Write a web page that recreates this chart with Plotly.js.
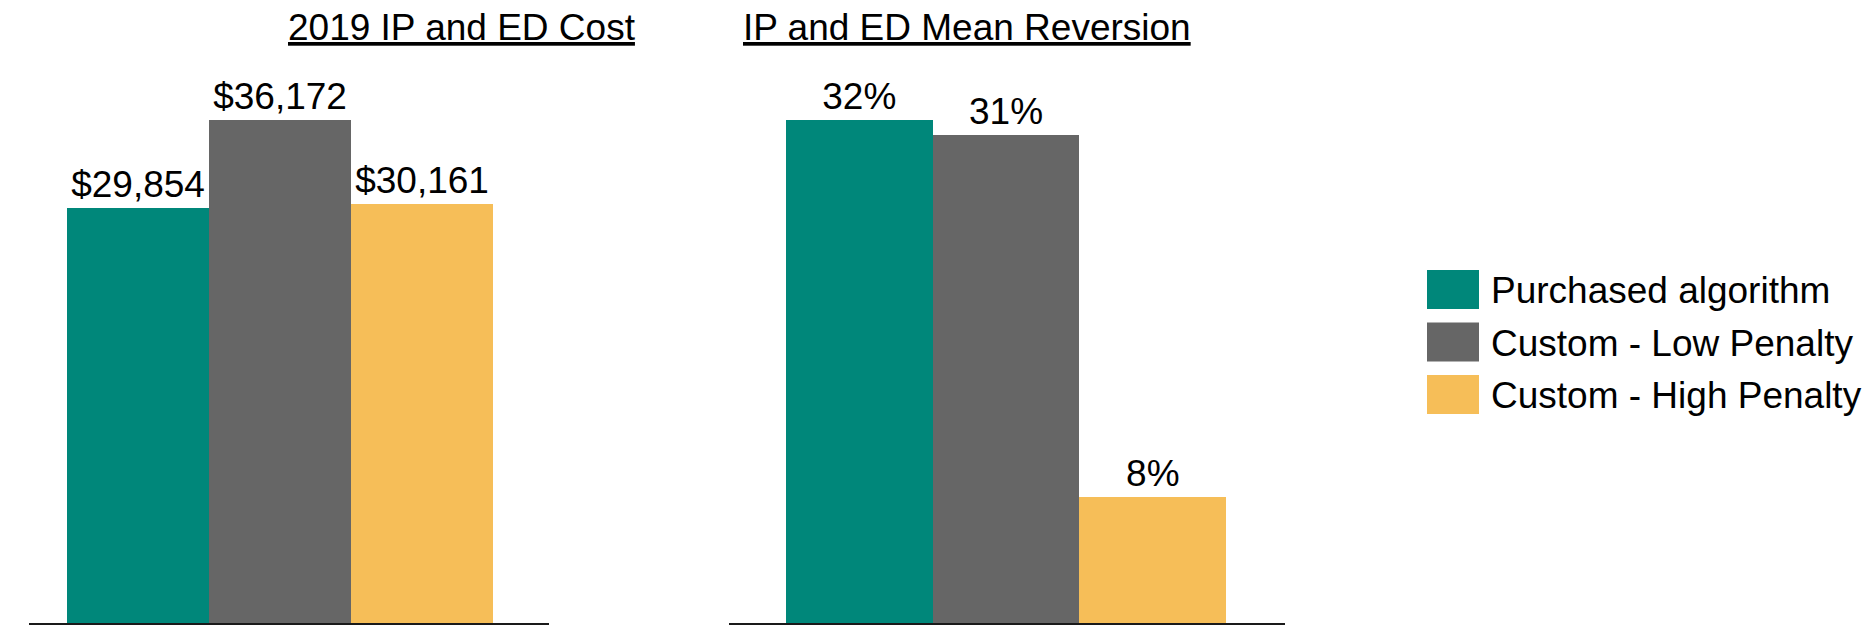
<!DOCTYPE html>
<html>
<head>
<meta charset="utf-8">
<script src="https://cdn.plot.ly/plotly-3.0.1.min.js"></script>
<style>
  html, body { margin: 0; padding: 0; background: #ffffff; }
  #chart { width: 1871px; height: 627px; }
</style>
</head>
<body>
<div id="chart"></div>
<script>
// Series shown side by side in both panels
const seriesNames = ['Purchased algorithm', 'Custom - Low Penalty', 'Custom - High Penalty'];
const seriesColors = ['#00877A', '#666666', '#F6BE58'];

// Panel 1: 2019 IP and ED cost (dollars)
const costValues = [29854, 36172, 30161];
// Panel 2: IP and ED mean reversion (percent)
const reversionValues = [32, 31, 8];

const panelTitles = ['2019 IP and ED Cost', 'IP and ED Mean Reversion'];

const W = 1871, H = 627;
const FONT = 'Liberation Sans, Arial, sans-serif';
const px = v => v / W;
const py = v => 1 - v / H;

const traces = [
  {
    type: 'bar',
    x: seriesNames,
    y: costValues,
    xaxis: 'x', yaxis: 'y',
    marker: { color: seriesColors, line: { width: 0 } },
    texttemplate: '$%{y:,}',
    textposition: 'outside',
    constraintext: 'none',
    cliponaxis: false,
    textfont: { family: FONT, size: 37, color: '#000000' },
    hoverinfo: 'skip',
    showlegend: false
  },
  {
    type: 'bar',
    x: seriesNames,
    y: reversionValues,
    xaxis: 'x2', yaxis: 'y2',
    marker: { color: seriesColors, line: { width: 0 } },
    texttemplate: '%{y}%',
    textposition: 'outside',
    constraintext: 'none',
    cliponaxis: false,
    textfont: { family: FONT, size: 37, color: '#000000' },
    hoverinfo: 'skip',
    showlegend: false
  }
];

const baseAxis = {
  type: 'category',
  showticklabels: false,
  ticks: '',
  showgrid: false,
  zeroline: false,
  showline: true,
  linecolor: '#1a1a1a',
  linewidth: 2,
  fixedrange: true
};

const plotTop = 60, plotBottom = 623;
const yDomain = [1 - plotBottom / H, 1 - plotTop / H];

const layout = {
  width: W,
  height: H,
  margin: { l: 0, r: 0, t: 0, b: 0 },
  paper_bgcolor: '#ffffff',
  plot_bgcolor: '#ffffff',
  font: { family: FONT, color: '#000000' },
  bargap: 0,
  showlegend: false,
  xaxis: Object.assign({}, baseAxis, { domain: [px(29), px(549)], range: [-0.768, 2.894], anchor: 'y' }),
  yaxis: { domain: yDomain, range: [0, 40486], visible: false, fixedrange: true, anchor: 'x' },
  xaxis2: Object.assign({}, baseAxis, { domain: [px(729), px(1285)], range: [-0.888, 2.901], anchor: 'y2' }),
  yaxis2: { domain: yDomain, range: [0, 35.8], visible: false, fixedrange: true, anchor: 'x2' },
  shapes: [],
  annotations: []
};

// Underlined panel titles
const titleCenters = [462, 967];
panelTitles.forEach((t, i) => {
  layout.annotations.push({
    xref: 'paper', yref: 'paper',
    x: px(titleCenters[i]), y: py(27),
    xanchor: 'center', yanchor: 'middle',
    text: '<u>' + t + '</u>',
    showarrow: false,
    font: { family: FONT, size: 37, color: '#000000' }
  });
});

// Legend: large colour swatches with labels
const swatchTops = [270, 322.5, 375];
const swatchH = 39;
seriesNames.forEach((name, i) => {
  const top = swatchTops[i];
  layout.shapes.push({
    type: 'rect', xref: 'paper', yref: 'paper',
    x0: px(1427), x1: px(1479),
    y0: py(top + swatchH), y1: py(top),
    fillcolor: seriesColors[i],
    line: { width: 0 }
  });
  layout.annotations.push({
    xref: 'paper', yref: 'paper',
    x: px(1489), y: py(top + swatchH / 2 + 1),
    xanchor: 'left', yanchor: 'middle',
    text: name,
    showarrow: false,
    font: { family: FONT, size: 37, color: '#000000' }
  });
});

Plotly.newPlot('chart', traces, layout, { staticPlot: true, displayModeBar: false });
</script>
</body>
</html>
